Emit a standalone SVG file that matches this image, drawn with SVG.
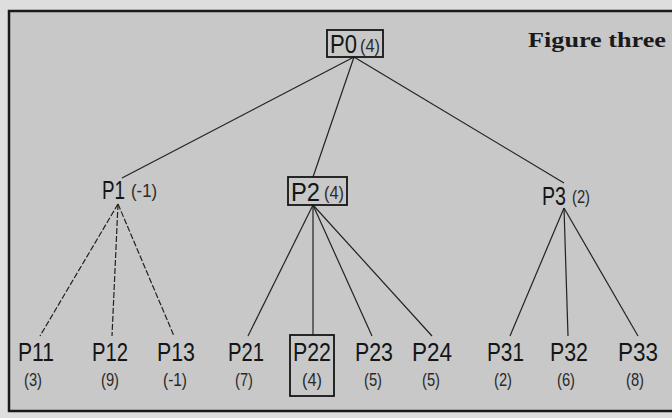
<svg xmlns="http://www.w3.org/2000/svg" width="672" height="418" viewBox="0 0 672 418">
<style>
.n{font-family:"Liberation Sans",Arial,sans-serif;font-size:25px;fill:#151515}
.v{font-family:"Liberation Sans",Arial,sans-serif;font-size:18px;fill:#2a2a2a}
.box{fill:none;stroke:#151515;stroke-width:1.8}
.c line{stroke:#222;stroke-width:1.2}
</style>
<rect x="0" y="0" width="672" height="418" fill="#dedede"/>
<rect x="9" y="11" width="670" height="400" fill="#c8c8c8" stroke="#1a1a1a" stroke-width="2.5"/>
<text x="528" y="47" font-family="Liberation Serif,serif" font-weight="bold" font-size="22" fill="#1a1a1a" textLength="138" lengthAdjust="spacingAndGlyphs">Figure three</text>
<g class="c">
<line x1="354" y1="57" x2="122" y2="178"/>
<line x1="354" y1="57" x2="313" y2="177"/>
<line x1="354" y1="57" x2="564" y2="183"/>
<line x1="118" y1="204" x2="40" y2="336" stroke-dasharray="6 2"/>
<line x1="118" y1="204" x2="112" y2="336" stroke-dasharray="6 2"/>
<line x1="118" y1="204" x2="174" y2="336" stroke-dasharray="6 2"/>
<line x1="313" y1="205" x2="248" y2="336"/>
<line x1="313" y1="205" x2="313" y2="335"/>
<line x1="313" y1="205" x2="372" y2="336"/>
<line x1="313" y1="205" x2="432" y2="336"/>
<line x1="564" y1="208" x2="510" y2="336"/>
<line x1="564" y1="208" x2="568" y2="336"/>
<line x1="564" y1="208" x2="638" y2="336"/>
</g>
<g id="P0"><rect class="box" x="327" y="30" width="56" height="27"/><text class="n" x="330" y="53" textLength="27" lengthAdjust="spacingAndGlyphs">P0</text><text class="v" x="360" y="52" textLength="20" lengthAdjust="spacingAndGlyphs">(4)</text></g>
<g id="P1"><text class="n" x="102" y="199" textLength="23" lengthAdjust="spacingAndGlyphs">P1</text><text class="v" x="131" y="197" textLength="26" lengthAdjust="spacingAndGlyphs">(-1)</text></g>
<g id="P2"><rect class="box" x="288" y="177" width="59" height="28"/><text class="n" x="291" y="201" textLength="29" lengthAdjust="spacingAndGlyphs">P2</text><text class="v" x="324" y="199" textLength="20" lengthAdjust="spacingAndGlyphs">(4)</text></g>
<g id="P3"><text class="n" x="542" y="205" textLength="24" lengthAdjust="spacingAndGlyphs">P3</text><text class="v" x="572" y="203" textLength="18" lengthAdjust="spacingAndGlyphs">(2)</text></g>
<g id="P11"><text class="n" x="18" y="361" textLength="36" lengthAdjust="spacingAndGlyphs">P11</text><text class="v" x="24" y="386" textLength="18" lengthAdjust="spacingAndGlyphs">(3)</text></g>
<g id="P12"><text class="n" x="92" y="361" textLength="36" lengthAdjust="spacingAndGlyphs">P12</text><text class="v" x="101" y="386" textLength="18" lengthAdjust="spacingAndGlyphs">(9)</text></g>
<g id="P13"><text class="n" x="157" y="361" textLength="38" lengthAdjust="spacingAndGlyphs">P13</text><text class="v" x="163" y="386" textLength="24" lengthAdjust="spacingAndGlyphs">(-1)</text></g>
<g id="P21"><text class="n" x="228" y="361" textLength="36" lengthAdjust="spacingAndGlyphs">P21</text><text class="v" x="235" y="386" textLength="18" lengthAdjust="spacingAndGlyphs">(7)</text></g>
<g id="P22"><rect class="box" x="290" y="335" width="44" height="61"/><text class="n" x="293" y="361" textLength="38" lengthAdjust="spacingAndGlyphs">P22</text><text class="v" x="302" y="386" textLength="20" lengthAdjust="spacingAndGlyphs">(4)</text></g>
<g id="P23"><text class="n" x="355" y="361" textLength="38" lengthAdjust="spacingAndGlyphs">P23</text><text class="v" x="364" y="386" textLength="18" lengthAdjust="spacingAndGlyphs">(5)</text></g>
<g id="P24"><text class="n" x="412" y="361" textLength="40" lengthAdjust="spacingAndGlyphs">P24</text><text class="v" x="422" y="386" textLength="18" lengthAdjust="spacingAndGlyphs">(5)</text></g>
<g id="P31"><text class="n" x="487" y="361" textLength="37" lengthAdjust="spacingAndGlyphs">P31</text><text class="v" x="494" y="386" textLength="18" lengthAdjust="spacingAndGlyphs">(2)</text></g>
<g id="P32"><text class="n" x="550" y="361" textLength="38" lengthAdjust="spacingAndGlyphs">P32</text><text class="v" x="557" y="386" textLength="18" lengthAdjust="spacingAndGlyphs">(6)</text></g>
<g id="P33"><text class="n" x="618" y="361" textLength="40" lengthAdjust="spacingAndGlyphs">P33</text><text class="v" x="626" y="386" textLength="18" lengthAdjust="spacingAndGlyphs">(8)</text></g>
</svg>
